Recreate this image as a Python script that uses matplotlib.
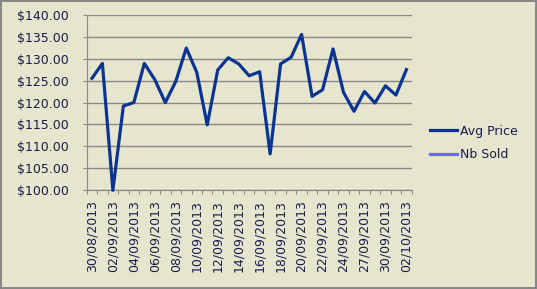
import matplotlib.pyplot as plt

# categories (Excel category axis, labels shown every 2nd)
dates = ["30/08/2013", "31/08/2013", "02/09/2013", "03/09/2013", "04/09/2013",
         "05/09/2013", "06/09/2013", "07/09/2013", "08/09/2013", "09/09/2013",
         "10/09/2013", "11/09/2013", "12/09/2013", "13/09/2013", "14/09/2013",
         "15/09/2013", "16/09/2013", "17/09/2013", "18/09/2013", "19/09/2013",
         "20/09/2013", "21/09/2013", "22/09/2013", "23/09/2013", "24/09/2013",
         "26/09/2013", "27/09/2013", "29/09/2013", "30/09/2013", "01/10/2013",
         "02/10/2013"]
avg_price = [125.5, 128.9, 100.0, 119.2, 120.0, 128.9, 125.2, 120.0, 124.8, 132.4,
             126.9, 114.9, 127.4, 130.2, 128.8, 126.1, 127.0, 108.3, 128.8, 130.3,
             135.5, 121.4, 122.9, 132.2, 122.3, 118.0, 122.5, 119.9, 123.8, 121.7,
             127.5]
nb_sold = []  # no visible values in the chart

bg = "#e6e6ce"
txt = "#1b1b4b"

fig = plt.figure(figsize=(5.37, 2.89), dpi=100, facecolor=bg,
                 edgecolor="#888888", linewidth=1.5)
ax = fig.add_axes([0.1614, 0.3415, 0.6052, 0.6076])
ax.set_facecolor(bg)

x = list(range(len(dates)))
ax.plot(x, avg_price, color="#0a3491", lw=2.3, label="Avg Price", zorder=3,
        clip_on=False)
ax.plot(nb_sold, nb_sold, color="#6a6af0", lw=2.3, label="Nb Sold")

ax.set_ylim(100, 140)
ax.set_yticks(range(100, 141, 5))
ax.set_yticklabels(["$%.2f" % v for v in range(100, 141, 5)])
ax.yaxis.grid(True, color="#888888", lw=1)
ax.set_axisbelow(True)

ax.set_xlim(-0.5, len(dates) - 0.5)
ax.set_xticks([i - 0.5 for i in range(len(dates) + 1)], minor=False)
ax.set_xticklabels([])
ax.set_xticks(x[::2], minor=True)
ax.set_xticklabels(dates[::2], minor=True, rotation=90)
ax.tick_params(axis="x", which="major", length=3, color="#888888", direction="out")
ax.tick_params(axis="x", which="minor", length=0, pad=7, labelsize=9, labelcolor=txt)
ax.tick_params(axis="y", length=3, color="#888888", labelsize=9, labelcolor=txt, pad=10)

for s in ["top", "right"]:
    ax.spines[s].set_visible(False)
for s in ["left", "bottom"]:
    ax.spines[s].set_color("#888888")

ax.legend(loc="center left", bbox_to_anchor=(0.80, 0.505),
          bbox_transform=fig.transFigure, frameon=False, fontsize=9,
          labelcolor=txt, handlelength=2.2, handletextpad=0.25,
          labelspacing=0.85, borderpad=0, borderaxespad=0)

fig.savefig("out.png", dpi=100, facecolor=bg, edgecolor="#888888")
